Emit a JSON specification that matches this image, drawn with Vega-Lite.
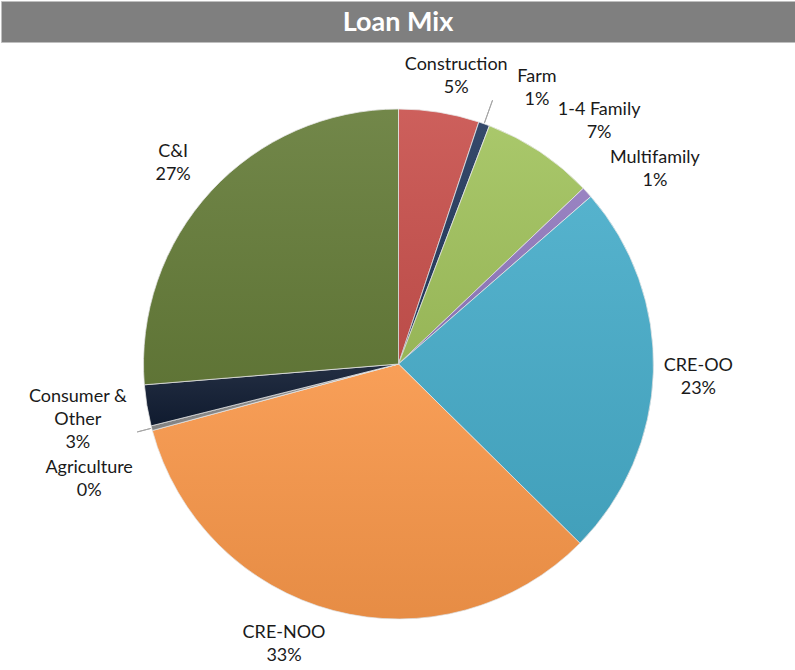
{
  "$schema": "https://vega.github.io/schema/vega-lite/v6.json",
  "padding": 0,
  "spacing": 16,
  "bounds": "flush",
  "background": "white",
  "config": {"view": {"stroke": null}, "font": "Lato"},
  "datasets": {
    "loans": [
      {"idx": 1, "category": "Construction", "value": 5.1, "label": "Construction\n5%"},
      {"idx": 2, "category": "Farm", "value": 0.7, "label": "Farm\n1%"},
      {"idx": 3, "category": "1-4 Family", "value": 7.1, "label": "1-4 Family\n7%"},
      {"idx": 4, "category": "Multifamily", "value": 0.7, "label": "Multifamily\n1%"},
      {"idx": 5, "category": "CRE-OO", "value": 23.8, "label": "CRE-OO\n23%"},
      {"idx": 6, "category": "CRE-NOO", "value": 33.4, "label": "CRE-NOO\n33%"},
      {"idx": 7, "category": "Agriculture", "value": 0.3, "label": "Agriculture\n0%"},
      {"idx": 8, "category": "Consumer & Other", "value": 2.6, "label": "Consumer &\nOther\n3%"},
      {"idx": 9, "category": "C&I", "value": 26.3, "label": "C&I\n27%"}
    ]
  },
  "vconcat": [
    {
      "width": 794,
      "height": 41,
      "view": {"fill": "#7f7f7f", "stroke": "#bfbfbf"},
      "data": {"values": [{"title": "Loan Mix"}]},
      "mark": {"type": "text", "font": "Lato", "fontWeight": "bold", "fontSize": 27, "color": "white", "align": "center", "baseline": "middle", "dy": 1},
      "encoding": {"text": {"field": "title", "type": "nominal"}}
    },
    {
      "width": 795,
      "height": 612,
      "data": {"name": "loans"},
      "encoding": {
        "theta": {"field": "value", "type": "quantitative", "stack": true},
        "order": {"field": "idx", "type": "quantitative"}
      },
      "layer": [
        {
          "mark": {"type": "arc", "radius": 255, "stroke": "#e8e8e8", "strokeWidth": 0.8},
          "encoding": {
            "color": {
              "field": "category",
              "type": "nominal",
              "legend": null,
              "scale": {
                "domain": ["Construction", "Farm", "1-4 Family", "Multifamily", "CRE-OO", "CRE-NOO", "Agriculture", "Consumer & Other", "C&I"],
                "range": ["#c9524e", "#243a5e", "#a2c35e", "#9179bd", "#47acc9", "#f8974a", "#8c8c8c", "#111d33", "#667d3a"]
              }
            }
          }
        },
        {
          "mark": {
            "type": "arc",
            "radius": 255,
            "strokeWidth": 0,
            "fill": {"gradient": "linear", "x1": 0, "y1": 0, "x2": 0, "y2": 1, "stops": [{"offset": 0, "color": "rgba(255,255,255,0.08)"}, {"offset": 1, "color": "rgba(0,0,0,0.07)"}]}
          }
        },
        {
          "mark": {"type": "arc", "outerRadius": 280, "innerRadius": 256, "padAngle": 0.5, "filled": false, "stroke": "#a6a6a6", "strokeWidth": 1},
          "encoding": {"strokeOpacity": {"condition": {"test": "datum.category === 'Farm'", "value": 1}, "value": 0}}
        },
        {
          "mark": {"type": "arc", "outerRadius": 270, "innerRadius": 256, "padAngle": 0.5, "filled": false, "stroke": "#a6a6a6", "strokeWidth": 1},
          "encoding": {"strokeOpacity": {"condition": {"test": "datum.category === 'Agriculture'", "value": 1}, "value": 0}}
        },
        {
          "mark": {"type": "text", "radius": 293, "dx": 11, "dy": -10, "fontSize": 18, "lineHeight": 23, "lineBreak": "\n", "align": "center", "baseline": "middle", "color": "#1a1a1a"},
          "encoding": {"text": {"condition": {"test": "datum.category === 'Construction'", "field": "label", "type": "nominal"}, "value": ""}}
        },
        {
          "mark": {"type": "text", "radius": 308, "dx": 35, "dy": 3, "fontSize": 18, "lineHeight": 23, "lineBreak": "\n", "align": "center", "baseline": "middle", "color": "#1a1a1a"},
          "encoding": {"text": {"condition": {"test": "datum.category === 'Farm'", "field": "label", "type": "nominal"}, "value": ""}}
        },
        {
          "mark": {"type": "text", "radius": 315, "dx": 26, "dy": 8, "fontSize": 18, "lineHeight": 23, "lineBreak": "\n", "align": "center", "baseline": "middle", "color": "#1a1a1a"},
          "encoding": {"text": {"condition": {"test": "datum.category === '1-4 Family'", "field": "label", "type": "nominal"}, "value": ""}}
        },
        {
          "mark": {"type": "text", "radius": 321, "dx": 19, "dy": 10, "fontSize": 18, "lineHeight": 23, "lineBreak": "\n", "align": "center", "baseline": "middle", "color": "#1a1a1a"},
          "encoding": {"text": {"condition": {"test": "datum.category === 'Multifamily'", "field": "label", "type": "nominal"}, "value": ""}}
        },
        {
          "mark": {"type": "text", "radius": 300, "dx": 0, "dy": -7, "fontSize": 18, "lineHeight": 23, "lineBreak": "\n", "align": "center", "baseline": "middle", "color": "#1a1a1a"},
          "encoding": {"text": {"condition": {"test": "datum.category === 'CRE-OO'", "field": "label", "type": "nominal"}, "value": ""}}
        },
        {
          "mark": {"type": "text", "radius": 304, "dx": -37, "dy": -25, "fontSize": 18, "lineHeight": 23, "lineBreak": "\n", "align": "center", "baseline": "middle", "color": "#1a1a1a"},
          "encoding": {"text": {"condition": {"test": "datum.category === 'CRE-NOO'", "field": "label", "type": "nominal"}, "value": ""}}
        },
        {
          "mark": {"type": "text", "radius": 330, "dx": 10, "dy": 21, "fontSize": 18, "lineHeight": 23, "lineBreak": "\n", "align": "center", "baseline": "middle", "color": "#1a1a1a"},
          "encoding": {"text": {"condition": {"test": "datum.category === 'Agriculture'", "field": "label", "type": "nominal"}, "value": ""}}
        },
        {
          "mark": {"type": "text", "radius": 326, "dx": 1, "dy": -20, "fontSize": 18, "lineHeight": 23, "lineBreak": "\n", "align": "center", "baseline": "middle", "color": "#1a1a1a"},
          "encoding": {"text": {"condition": {"test": "datum.category === 'Consumer & Other'", "field": "label", "type": "nominal"}, "value": ""}}
        },
        {
          "mark": {"type": "text", "radius": 301, "dx": -4, "dy": -8, "fontSize": 18, "lineHeight": 23, "lineBreak": "\n", "align": "center", "baseline": "middle", "color": "#1a1a1a"},
          "encoding": {"text": {"condition": {"test": "datum.category === 'C&I'", "field": "label", "type": "nominal"}, "value": ""}}
        }
      ]
    }
  ]
}
